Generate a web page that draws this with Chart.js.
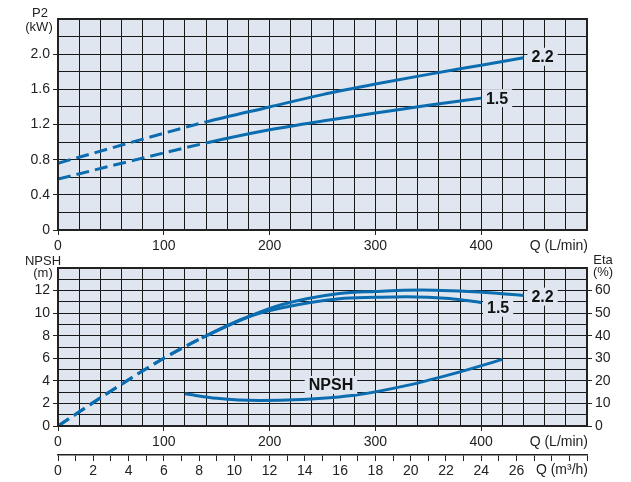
<!DOCTYPE html>
<html>
<head>
<meta charset="utf-8">
<script src="https://cdn.jsdelivr.net/npm/chart.js@4"></script>
<style>
  body { margin: 0; background: #fff; }
  #wrap { position: relative; width: 631px; height: 482px; }
  canvas { position: absolute; left: 0; }
  #p2Chart { top: 0; }
  #npshChart { top: 248px; }
</style>
</head>
<body>
<div id="wrap">
  <canvas id="p2Chart" width="631" height="258"></canvas>
  <canvas id="npshChart" width="631" height="234"></canvas>
</div>
<script>
// P2 (kW) against Q (L/min)
const p2Q22 = [0, 140, 200, 250, 300, 350, 400, 440];
const p2Kw22 = [0.76, 1.23, 1.40, 1.54, 1.66, 1.77, 1.875, 1.96];
const p2Q15 = [0, 140, 200, 250, 300, 350, 400];
const p2Kw15 = [0.58, 0.99, 1.14, 1.24, 1.33, 1.42, 1.50];

// efficiency (%) against Q (L/min)
const etaQ22 = [0, 50, 100, 136, 180, 212, 266, 300, 344, 408, 440];
const eta22 = [0, 15.5, 30, 39, 48.4, 53.8, 58.7, 59.6, 60.2, 59, 57.8];
const etaQ15 = [0, 50, 100, 136, 180, 212, 266, 300, 329, 370, 400];
const eta15 = [0, 15.5, 30, 39, 48.4, 52.4, 56.4, 57, 57.3, 56.5, 54.7];

// NPSH (m) against Q (L/min)
const npshQ = [120, 150, 190, 230, 280, 330, 380, 420];
const npshM = [2.85, 2.45, 2.25, 2.35, 2.72, 3.6, 4.8, 5.9];

// tick labels
const qTicks = [0, 100, 200, 300, 400];
const p2Ticks = [0, 0.4, 0.8, 1.2, 1.6, 2.0];
const npshTicks = [0, 2, 4, 6, 8, 10, 12];
const etaTicks = [0, 10, 20, 30, 40, 50, 60];
const m3hTicks = [0, 2, 4, 6, 8, 10, 12, 14, 16, 18, 20, 22, 24, 26];

const plotBg = '#dfe6f0';
const gridCol = '#181818';
const inkCol = '#222';
const lineBlue = '#0b6db0';

Chart.defaults.font.family = '"Liberation Sans", Arial, sans-serif';
Chart.defaults.font.size = 14;
Chart.defaults.color = inkCol;

const hasTick = (list, v) => list.some(t => Math.abs(t - v) < 1e-6);
const tickMark = list => ctx => hasTick(list, ctx.tick.value) ? inkCol : 'rgba(0,0,0,0)';

const toPoints = (xs, ys) => xs.map((x, i) => ({ x: x, y: ys[i] }));

const curve = (label, data, dashEnd, yAxisID) => ({
  label: label,
  data: data,
  yAxisID: yAxisID,
  borderColor: lineBlue,
  borderWidth: 3,
  pointRadius: 0,
  fill: false,
  cubicInterpolationMode: 'monotone',
  segment: {
    borderDash: ctx => ctx.p1.parsed.x <= dashEnd ? [13, 6] : undefined
  }
});

// plot background, frame, curve labels and axis captions
const chartFrame = {
  id: 'chartFrame',
  beforeDraw(chart) {
    const { ctx, chartArea: a } = chart;
    ctx.save();
    ctx.fillStyle = plotBg;
    ctx.fillRect(a.left, a.top, a.width, a.height);
    ctx.restore();
  },
  afterDraw(chart, args, opts) {
    const { ctx, chartArea: a } = chart;
    ctx.save();
    ctx.strokeStyle = inkCol;
    ctx.lineWidth = 2;
    ctx.strokeRect(a.left, a.top, a.width, a.height);

    ctx.font = 'bold 16px "Liberation Sans", Arial, sans-serif';
    ctx.textBaseline = 'middle';
    ctx.textAlign = 'center';
    (opts.labels || []).forEach(l => {
      const px = chart.scales.x.getPixelForValue(l.x);
      const py = chart.scales[l.axis].getPixelForValue(l.y);
      const w = ctx.measureText(l.text).width;
      ctx.fillStyle = plotBg;
      ctx.fillRect(px - w / 2 - 4, py - 9, w + 8, 18);
      ctx.fillStyle = '#111';
      ctx.fillText(l.text, px, py + 1);
    });

    (opts.texts || []).forEach(t => {
      ctx.font = (t.size || 13) + 'px "Liberation Sans", Arial, sans-serif';
      ctx.textAlign = t.align || 'center';
      ctx.fillStyle = inkCol;
      ctx.fillText(t.text, t.x, t.y);
    });
    ctx.restore();
  }
};

const qAxis = (height) => ({
  type: 'linear', position: 'bottom', min: 0, max: 500,
  ticks: {
    stepSize: 20, autoSkip: false, maxRotation: 0, padding: 3,
    callback: v => hasTick(qTicks, v) ? String(v) : ''
  },
  grid: { color: gridCol, lineWidth: 1, tickLength: 5, tickColor: tickMark(qTicks) },
  border: { color: inkCol, width: 2 },
  afterFit: s => { s.height = height; }
});

new Chart(document.getElementById('p2Chart'), {
  type: 'line',
  data: {
    datasets: [
      curve('2.2', toPoints(p2Q22, p2Kw22), 140, 'y'),
      curve('1.5', toPoints(p2Q15, p2Kw15), 140, 'y')
    ]
  },
  options: {
    responsive: false,
    animation: false,
    layout: { padding: { top: 19, right: 44, left: 0, bottom: 0 } },
    plugins: {
      legend: { display: false },
      tooltip: { enabled: false },
      chartFrame: {
        labels: [
          { text: '2.2', x: 458, y: 1.97, axis: 'y' },
          { text: '1.5', x: 415, y: 1.50, axis: 'y' }
        ],
        texts: [
          { text: 'P2', x: 40, y: 13 },
          { text: '(kW)', x: 39, y: 27 },
          { text: 'Q (L/min)', x: 588, y: 246, align: 'right', size: 14 }
        ]
      }
    },
    scales: {
      x: qAxis(28),
      y: {
        min: 0, max: 2.4,
        ticks: {
          stepSize: 0.2, autoSkip: false, padding: 3,
          callback: v => hasTick(p2Ticks, v) ? (v === 0 ? '0' : v.toFixed(1)) : ''
        },
        grid: { color: gridCol, lineWidth: 1, tickLength: 5, tickColor: tickMark(p2Ticks) },
        border: { color: inkCol, width: 2 },
        afterFit: s => { s.width = 58; }
      }
    }
  },
  plugins: [chartFrame]
});

new Chart(document.getElementById('npshChart'), {
  type: 'line',
  data: {
    datasets: [
      curve('2.2', toPoints(etaQ22, eta22), 136, 'yEta'),
      curve('1.5', toPoints(etaQ15, eta15), 136, 'yEta'),
      curve('NPSH', toPoints(npshQ, npshM), -1, 'y')
    ]
  },
  options: {
    responsive: false,
    animation: false,
    layout: { padding: { top: 20, right: 0, left: 0, bottom: 0 } },
    plugins: {
      legend: { display: false },
      tooltip: { enabled: false },
      chartFrame: {
        labels: [
          { text: '2.2', x: 458, y: 57.3, axis: 'yEta' },
          { text: '1.5', x: 416, y: 52.4, axis: 'yEta' },
          { text: 'NPSH', x: 258, y: 3.64, axis: 'y' }
        ],
        texts: [
          { text: 'NPSH', x: 43, y: 13 },
          { text: '(m)', x: 43, y: 25 },
          { text: 'Eta', x: 603, y: 12 },
          { text: '(%)', x: 603, y: 24 },
          { text: 'Q (L/min)', x: 588, y: 194, align: 'right', size: 14 },
          { text: 'Q (m³/h)', x: 588, y: 222, align: 'right', size: 14 }
        ]
      }
    },
    scales: {
      x: qAxis(29),
      x2: {
        type: 'linear', position: 'bottom', weight: 1, min: 0, max: 30,
        ticks: {
          stepSize: 1, autoSkip: false, maxRotation: 0, padding: 2,
          callback: v => hasTick(m3hTicks, v) ? String(v) : ''
        },
        grid: { drawOnChartArea: false, tickLength: 6, tickColor: inkCol, lineWidth: 1 },
        border: { display: true, color: inkCol, width: 1.5 },
        afterFit: s => { s.height = 27; }
      },
      y: {
        position: 'left', min: 0, max: 14,
        ticks: {
          stepSize: 1, autoSkip: false, padding: 3,
          callback: v => hasTick(npshTicks, v) ? String(v) : ''
        },
        grid: { color: gridCol, lineWidth: 1, tickLength: 5, tickColor: tickMark(npshTicks) },
        border: { color: inkCol, width: 2 },
        afterFit: s => { s.width = 58; }
      },
      yEta: {
        position: 'right', min: 0, max: 70,
        ticks: {
          stepSize: 5, autoSkip: false, padding: 3,
          callback: v => hasTick(etaTicks, v) ? String(v) : ''
        },
        grid: { drawOnChartArea: false, tickLength: 5, tickColor: tickMark(etaTicks) },
        border: { color: inkCol, width: 2 },
        afterFit: s => { s.width = 44; }
      }
    }
  },
  plugins: [chartFrame]
});
</script>
</body>
</html>
